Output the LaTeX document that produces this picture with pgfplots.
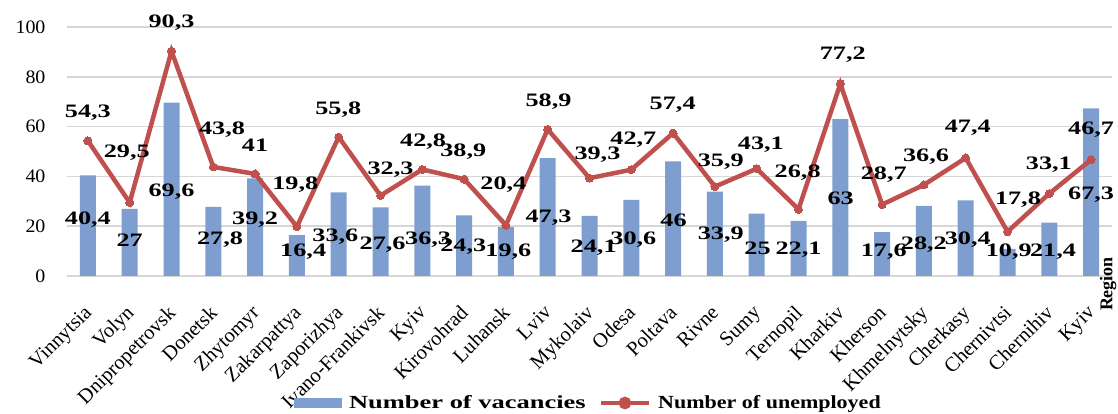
\documentclass[border=0pt]{standalone}
\usepackage{pgfplots}
\pgfplotsset{compat=1.18}
\usepackage{pgfplotstable}
\usepackage{fontspec}
\setmainfont{Liberation Serif}
\newfontfamily\lblfont[FakeStretch=1.38]{Liberation Serif}
\newfontfamily\legA[FakeStretch=1.43]{Liberation Serif}
\newfontfamily\legB[FakeStretch=1.19]{Liberation Serif}
\newfontfamily\tickfont[FakeStretch=1.05]{Liberation Serif}
\definecolor{barblue}{RGB}{125,158,206}
\definecolor{linered}{RGB}{192,80,77}
\definecolor{gridgray}{RGB}{215,215,215}

\pgfplotstableread{
x vac unemp
0 40.4 54.3
1 27 29.5
2 69.6 90.3
3 27.8 43.8
4 39.2 41
5 16.4 19.8
6 33.6 55.8
7 27.6 32.3
8 36.3 42.8
9 24.3 38.9
10 19.6 20.4
11 47.3 58.9
12 24.1 39.3
13 30.6 42.7
14 46 57.4
15 33.9 35.9
16 25 43.1
17 22.1 26.8
18 63 77.2
19 17.6 28.7
20 28.2 36.6
21 30.4 47.4
22 10.9 17.8
23 21.4 33.1
24 67.3 46.7
}\datatable

\pgfplotstableread{
x y l
-0.12 -10.6 Vinnytsia
0.88 -10.6 Volyn
1.88 -10.6 Dnipropetrovsk
2.88 -10.6 Donetsk
3.88 -10.6 Zhytomyr
4.88 -10.6 Zakarpattya
5.88 -10.6 Zaporizhya
6.88 -10.6 Ivano-Frankivsk
7.88 -10.6 Kyiv
8.88 -10.6 Kirovohrad
9.88 -10.6 Luhansk
10.88 -10.6 Lviv
11.88 -10.6 Mykolaiv
12.88 -10.6 Odesa
13.88 -10.6 Poltava
14.88 -10.6 Rivne
15.88 -10.6 Sumy
16.88 -10.6 Ternopil
17.88 -10.6 Kharkiv
18.88 -10.6 Kherson
19.88 -10.6 Khmelnytsky
20.88 -10.6 Cherkasy
21.88 -10.6 Chernivtsi
22.88 -10.6 Chernihiv
23.88 -10.6 Kyiv
}\catlabels

\pgfplotstableread{
x y l
0 65.5 54,3
0.93 49.4 29,5
2.0 101.6 90,3
3.21 58.6 43,8
4.0 52.6 41
4.96 36.5 19,8
5.99 66.7 55,8
7.24 42.6 32,3
8.02 53.8 42,8
8.98 49.8 38,9
9.94 36.5 20,4
11.02 69.9 58,9
12.19 48.6 39,3
13.05 54.6 42,7
13.99 68.7 57,4
15.14 45.8 35,9
16.1 52.6 43,1
16.98 41.4 26,8
18.06 88.8 77,2
19.04 40.6 28,7
20.05 47.8 36,6
21.05 59.4 47,4
22.25 30.5 17,8
22.99 44.6 33,1
24.0 58.6 46,7
}\unemplabels

\pgfplotstableread{
x y l
0 22.5 40,4
1.0 14.5 27
2.0 33.7 69,6
3.16 14.5 27,8
4.0 22.5 39,2
5.15 9.6 16,4
5.92 15.7 33,6
7.05 12.4 27,6
8.14 14.5 36,3
8.98 11.6 24,3
10.06 9.6 19,6
11.02 23.3 47,3
12.1 11.2 24,1
13.05 14.5 30,6
14.01 22.5 46
15.14 16.5 33,9
16.02 11.2 25
17.0 10.4 22,1
18.01 31.3 63
19.04 9.6 17,6
20.0 12.4 28,2
21.05 14.5 30,4
22.03 9.6 10,9
23.09 9.6 21,4
24.0 32.5 67,3
}\vaclabels

\begin{document}
\begin{tikzpicture}
\useasboundingbox (0,0) rectangle (1118pt,414pt);
\begin{axis}[
  at={(67pt,138pt)}, anchor=south west,
  width=1045pt, height=249pt, scale only axis,
  xmin=-0.5, xmax=24.5, ymin=0, ymax=100,
  clip=false,
  ytick={0,20,40,60,80,100},
  xtick=\empty,
  yticklabel style={font=\tickfont\fontsize{19}{19}\selectfont, xshift=-18pt},
  /pgf/number format/assume math mode=true,
  ymajorgrids, grid style={line width=1.6pt, color=gridgray},
  axis line style={draw=none},
  tick style={draw=none},
  legend columns=2,
  legend style={draw=none, fill=none, at={(0.499,-0.51)}, anchor=center,
    font=\bfseries\fontsize{18.5}{18.5}\selectfont,
    /tikz/every odd column/.append style={column sep=5pt},
    /tikz/every even column/.append style={column sep=11pt}},
]
\addplot[ybar, bar width=16pt, fill=barblue, draw=none,
  legend image code/.code={\fill[barblue] (0pt,-5pt) rectangle (48pt,5pt);}]
  table[x=x, y=vac] {\datatable};
\addlegendentry{\legA Number of vacancies}
\addplot[color=linered, line width=4.5pt, mark=*, mark size=4pt, mark options={fill=linered, line width=0pt},
  legend image code/.code={\draw[linered, line width=4.5pt] (0pt,0pt) -- (48pt,0pt); \fill[linered] (24pt,0pt) circle (4pt);}]
  table[x=x, y=unemp] {\datatable};
\addlegendentry{\legB Number of unemployed}
\addplot[draw=none, mark=none, forget plot, nodes near coords, point meta=explicit symbolic,
  nodes near coords style={anchor=center, inner sep=0pt, font=\lblfont\bfseries\fontsize{19}{19}\selectfont}]
  table[x=x, y=y, meta=l] {\unemplabels};
\addplot[draw=none, mark=none, forget plot, nodes near coords, point meta=explicit symbolic,
  nodes near coords style={anchor=center, inner sep=0pt, font=\lblfont\bfseries\fontsize{19}{19}\selectfont}]
  table[x=x, y=y, meta=l] {\vaclabels};
\addplot[draw=none, mark=none, forget plot, nodes near coords, point meta=explicit symbolic,
  nodes near coords style={rotate=45, anchor=north east, inner sep=1pt, font=\fontsize{20.5}{20.5}\selectfont}]
  table[x=x, y=y, meta=l] {\catlabels};
\node[rotate=90, anchor=center, font=\bfseries\fontsize{18}{18}\selectfont] at ([xshift=-4pt, yshift=-8pt]rel axis cs:1,0) {Region};
\end{axis}
\end{tikzpicture}
\end{document}
